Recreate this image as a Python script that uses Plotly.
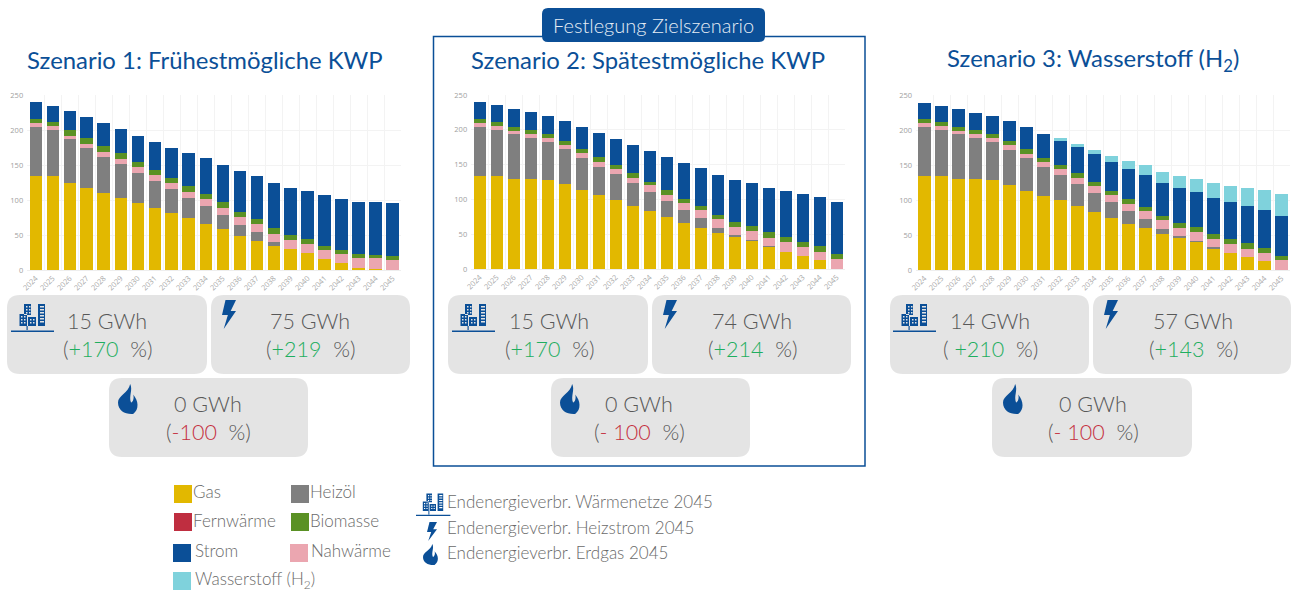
import plotly.graph_objects as go

W, H = 1291, 591
years = [str(y) for y in range(2024, 2046)]
y_ticks = [0, 50, 100, 150, 200, 250]

# Scenario 1
s1_gas = [134,134,125,117,110,103,96,89,81,74,66,58,49,42,34,30,25,16,10,3,2,0]
s1_oil = [71,66,62,57,52,48,43,38,35,29,26,20.5,16,13,6.5,0,0,0,0,0,0,0]
s1_nah = [5.4,5.6,5,6,6.5,8,7.6,8.7,8.7,9,9,10,11,11,11.5,13,12,13,13,14,15,14.3]
s1_bio = [5.2,5.7,7.5,8,8,7.6,7.2,6.6,7.3,8,8,8.1,7,7,7.5,6.5,7,6,5.6,5.4,5,5.7]
s1_str = [23.8,23.7,27,30,33,35.4,38.2,41,43,47,50.5,53.8,58.4,61,64.5,67,68.4,71.6,72.8,75.2,74.6,75.7]
s1_h2 = [0]*22
# Scenario 2
s2_gas = [133.6,133.6,130,130,128,121.6,114,106.8,99.6,91,82.9,74.7,65.6,59.4,52.2,46.5,40.7,32.6,25,18.2,12.5,0]
s2_oil = [71,66.4,63.5,58.7,55,50.8,45.5,40.2,36.4,32,27.6,22.3,18.7,13.9,7.2,2.4,1.3,0.4,0,0,0,0]
s2_nah = [5.5,5.5,5.3,5.3,5.7,6.3,6.5,7,7.7,8,9.5,9.8,10.5,11.5,12,11.9,12.6,12,13.3,12.8,12.5,13.9]
s2_bio = [5.6,5.5,5.7,5.7,5.3,5.3,6,6.5,5.3,6.5,5.5,6.2,6.2,6.2,6.2,6.2,6.7,7.7,7.2,8.3,7.6,7.1]
s2_str = [23.9,24,24.9,25.3,26,28.7,31.6,34.5,37.8,40.5,44.1,47.5,51.8,54.6,58,61.4,62.7,64.3,67.1,68.5,70.9,74.8]
s2_h2 = [0]*22
# Scenario 3
s3_gas = [133.8,133.8,130.4,130,128,121.4,113.3,106,99.5,91,82.4,74.3,65.7,59.5,51.9,46,40.5,31.4,24.8,18,12.4,0]
s3_oil = [70.9,66.6,63.3,58.5,54.8,50.4,46.2,40.6,36.2,31.8,28.1,22.7,18.6,13.8,7.1,2.6,1.5,1,0,0,0,0]
s3_nah = [5.5,5.2,4.8,5.2,5.7,6.7,6.5,7.4,8.3,9.2,9,10,10.4,11.4,12,11.9,12.7,12.6,12.8,12.5,12.4,13.8]
s3_bio = [5.2,5.7,5.5,5.7,5.2,6.2,6.3,6.4,6,6,6.5,5.8,6.3,5.7,6,6.5,6.3,7,7.1,7.5,7.2,6.2]
s3_str = [23.8,23.7,25.4,25.3,26.7,28.1,31.4,34.3,34.7,37.6,40,42.2,43.7,45.3,48,49.6,50.4,51.3,52.3,53.4,54,56.6]
s3_h2 = [0,0,0,0,0,0,0,0,3.3,3.9,5.8,8.3,11.3,14.3,15.4,18.1,19,21.4,23.4,25.2,27.8,31.4]

series_names = ["Gas", "Heizöl", "Nahwärme", "Biomasse", "Strom", "Wasserstoff (H2)"]
series_colors = ["#e2b800", "#7f7f7f", "#eba6b0", "#5a9124", "#0b4f97", "#7fd2dc"]
scenarios = [
    [s1_gas, s1_oil, s1_nah, s1_bio, s1_str, s1_h2],
    [s2_gas, s2_oil, s2_nah, s2_bio, s2_str, s2_h2],
    [s3_gas, s3_oil, s3_nah, s3_bio, s3_str, s3_h2],
]
titles = ["Szenario 1: Frühestmögliche KWP", "Szenario 2: Spätestmögliche KWP",
          "Szenario 3: Wasserstoff (H<sub>2</sub>)"]
card_values = [
    ["15 GWh", "75 GWh", "0 GWh"],
    ["15 GWh", "74 GWh", "0 GWh"],
    ["14 GWh", "57 GWh", "0 GWh"],
]
card_changes = [
    ["+170", "+219", "-100"],
    ["+170", "+214", "- 100"],
    [" +210", "+143", "- 100"],
]
legend_left = [("Gas", "#e2b800", 174, 485, 191, 491), ("Heizöl", "#7f7f7f", 291, 485, 308, 491),
               ("Fernwärme", "#bf2e40", 174, 513, 191, 520), ("Biomasse", "#5a9124", 291, 513, 308, 520),
               ("Strom", "#0b4f97", 173, 544, 193, 550), ("Nahwärme", "#eba6b0", 290, 544, 309, 550),
               ("Wasserstoff (H<sub>2</sub>)", "#7fd2dc", 173, 572, 193, 580)]
legend_right = ["Endenergieverbr. Wärmenetze 2045", "Endenergieverbr. Heizstrom 2045", "Endenergieverbr. Erdgas 2045"]

FONT = "Lato"
BLUE = "#0b4f97"
GREY = "#585858"
CARD = "#e4e4e4"


def fx(x):
    return x / W


def fy(y):
    return 1 - y / H


def rrect(x0, y0, x1, y1, r, color, line=None):
    p = (f"M {fx(x0+r)} {fy(y0)} L {fx(x1-r)} {fy(y0)} Q {fx(x1)} {fy(y0)} {fx(x1)} {fy(y0+r)} "
         f"L {fx(x1)} {fy(y1-r)} Q {fx(x1)} {fy(y1)} {fx(x1-r)} {fy(y1)} "
         f"L {fx(x0+r)} {fy(y1)} Q {fx(x0)} {fy(y1)} {fx(x0)} {fy(y1-r)} "
         f"L {fx(x0)} {fy(y0+r)} Q {fx(x0)} {fy(y0)} {fx(x0+r)} {fy(y0)} Z")
    return dict(type="path", xref="paper", yref="paper", path=p, fillcolor=color,
                line=dict(width=0), layer="below")


def poly(x, y, w, h, pts):
    return "M " + " L ".join(f"{fx(x+a*w)} {fy(y+b*h)}" for a, b in pts) + " Z "


def bolt(x, y, w=14, h=29):
    pts = [(.25, 0), (1, 0), (.62, .38), (1, .38), (.12, 1), (.42, .52), (0, .52)]
    return dict(type="path", xref="paper", yref="paper", path=poly(x, y, w, h, pts),
                fillcolor=BLUE, line=dict(width=0))


def flame(x, y, w=21, h=30):
    P = lambda a, b: f"{fx(x+a*w)} {fy(y+b*h)}"
    p = (f"M {P(.58,0)} C {P(.72,.2)} {P(.5,.4)} {P(.62,.62)} C {P(.72,.6)} {P(.78,.46)} {P(.72,.35)} "
         f"C {P(.98,.55)} {P(1.02,.85)} {P(.72,1)} C {P(.35,1.02)} {P(0,.9)} {P(0,.62)} "
         f"C {P(0,.38)} {P(.5,.3)} {P(.58,0)} Z")
    return dict(type="path", xref="paper", yref="paper", path=p, fillcolor=BLUE, line=dict(width=0))


def building(x, y, k=1.0):
    # x,y = top-left of a 43x28 box
    def R(a, b, c, d):
        return poly(x, y, k, k, [(a, b), (c, b), (c, d), (a, d)])

    def W_(a, b, c, d):
        return poly(x, y, k, k, [(a, b), (a, d), (c, d), (c, b)])
    p = R(8.5, 10, 16, 22) + R(13, 0, 20, 11) + R(17, 13, 25, 22) + R(27, 0, 34, 22)
    for cx, rows in ((10, (12, 15, 18)), (13, (12, 15, 18)), (15, (2, 5, 8)), (18, (2, 5, 8)), (19, (15, 18)), (22, (15, 18))):
        for r in rows:
            p += W_(cx, r, cx + 1.5, r + 1.5)
    for r in (2, 5, 8, 11, 14, 17):
        p += W_(29, r, 33, r + 1.4)
    p += R(15.5, 22, 16.7, 27) + R(0, 26.5, 43, 28)
    return dict(type="path", xref="paper", yref="paper", path=p, fillcolor=BLUE, line=dict(width=0))


fig = go.Figure()
left_edges = [27.2, 471.2, 916.0]
bottoms = [270, 269, 270]
layout_axes = {}
for i, vals in enumerate(scenarios):
    sfx = "" if i == 0 else str(i + 1)
    for name, col, v in zip(series_names, series_colors, vals):
        fig.add_trace(go.Bar(x=years, y=v, name=name, marker=dict(color=col, line=dict(width=0)),
                             xaxis="x" + sfx, yaxis="y" + sfx, showlegend=False,
                             hovertemplate="%{x}: %{y}<extra>" + name + "</extra>"))
    layout_axes["xaxis" + sfx] = dict(
        domain=[fx(left_edges[i]), min(1, fx(left_edges[i] + 374))], anchor="y" + sfx,
        type="category", tickson="boundaries", tickangle=-45, showgrid=True, gridcolor="#f3f3f3",
        gridwidth=1, ticks="", tickfont=dict(size=7.5, color="#a8a8a8", family="Open Sans"),
        linecolor="#eeeeee", showline=True, tickmode="array", tickvals=years, ticktext=years,
        automargin=False, ticklabeloverflow="allow")
    layout_axes["yaxis" + sfx] = dict(
        domain=[fy(bottoms[i]), fy(95)], anchor="x" + sfx, range=[0, 250], tickvals=y_ticks,
        showgrid=True, gridcolor="#f3f3f3", gridwidth=1, zeroline=False, ticks="",
        tickfont=dict(size=7.5, color="#a0a0a0", family="Open Sans"), automargin=False,
        ticklabelstandoff=3)

shapes = []
ann = []


def text(x, y, s, size, color=GREY, anchor="center", weight=300):
    ann.append(dict(x=fx(x), y=fy(y), xref="paper", yref="paper", text=s, showarrow=False,
                    xanchor=anchor, yanchor="middle", align=anchor,
                    font=dict(family=FONT, size=size, color=color, weight=weight)))


# Frame and tag
shapes.append(dict(type="rect", xref="paper", yref="paper", x0=fx(433.5), x1=fx(865), y0=fy(466), y1=fy(36.5),
                   line=dict(color=BLUE, width=1.5), fillcolor="rgba(0,0,0,0)", layer="below"))
tag = rrect(542, 8, 765, 42, 6, BLUE)
tag["layer"] = "above"
shapes.append(tag)
text(653.5, 25, "Festlegung Zielszenario", 20, "#e6edf5")

card_x = [
    [(7, 207), (211, 410), (109, 308)],
    [(448, 648), (652, 851), (551, 750)],
    [(890, 1089), (1093, 1291), (992, 1192)],
]
title_x = [204.5, 648, 1093]
text_x = [[107, 310, 208], [549, 752, 639], [990, 1193, 1093]]
bldg_x = [11, 452, 893]
bolt_x = [222, 663, 1104]
flame_x = [118, 560, 1003]
for i in range(3):
    text(title_x[i], 60, titles[i], 23.9, BLUE, weight=400)
    for j in range(3):
        x0, x1 = card_x[i][j]
        yy = (295, 374) if j < 2 else (378, 457)
        shapes.append(rrect(x0, yy[0], x1, yy[1], 13, CARD))
        text(text_x[i][j], yy[0] + 26, card_values[i][j], 21.5)
        chg = card_changes[i][j]
        col = "#1fae5f" if "+" in chg else "#c4303f"
        text(text_x[i][j], yy[0] + 54, f'(<span style="color:{col}">{chg}</span>\u00a0 %)', 21.5)
    shapes.append(building(bldg_x[i], 304))
    shapes.append(bolt(bolt_x[i], 300))
    shapes.append(flame(flame_x[i], 384))

# Legend
for name, col, sx, sy, tx, ty in legend_left:
    shapes.append(dict(type="rect", xref="paper", yref="paper", x0=fx(sx), x1=fx(sx + 18), y0=fy(sy + 18), y1=fy(sy),
                       fillcolor=col, line=dict(width=0)))
    text(tx, ty, name, 17, "#6a6a6a", "left")
for s, yy in zip(legend_right, (501, 527, 552)):
    text(445, yy, s, 17, "#6a6a6a", "left")
shapes.append(building(416, 493.5, 0.8))
shapes.append(bolt(427, 522, 10, 19))
shapes.append(flame(423, 544, 16, 21))

fig.update_layout(width=W, height=H, autosize=False, margin=dict(l=0, r=0, t=0, b=0),
                  paper_bgcolor="white", plot_bgcolor="white", barmode="stack", bargap=0.27,
                  shapes=shapes, annotations=ann, font=dict(family=FONT), **layout_axes)
fig.write_html("out.html", config=dict(displayModeBar=False),
               post_script="document.body.style.margin='0';document.body.style.overflow='hidden';")
